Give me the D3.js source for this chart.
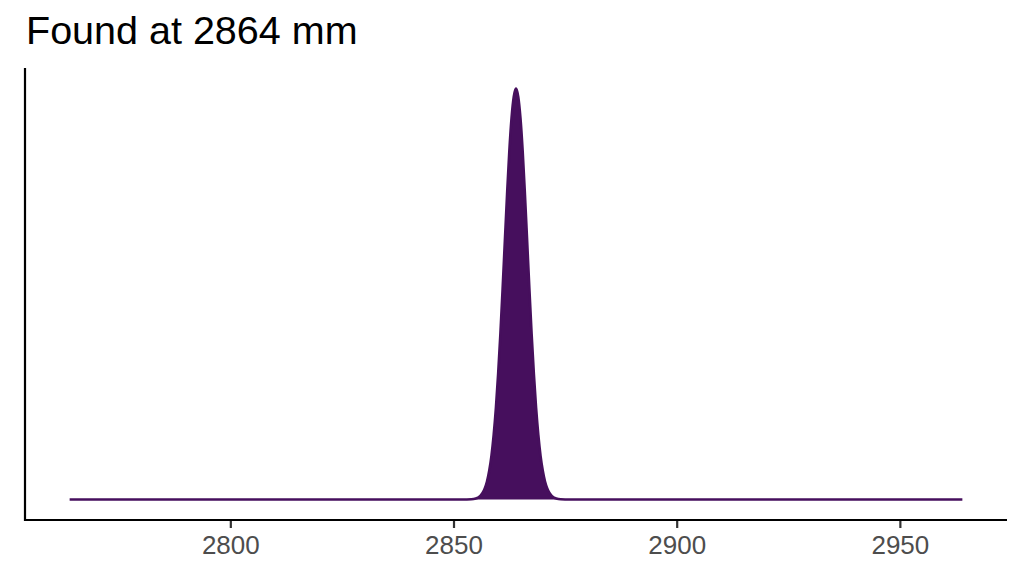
<!DOCTYPE html>
<html>
<head>
<meta charset="utf-8">
<script src="https://cdn.jsdelivr.net/npm/d3@7"></script>
<style>
  html, body { margin: 0; padding: 0; background: #ffffff; }
  svg { display: block; font-family: "Liberation Sans", Arial, sans-serif; }
</style>
</head>
<body>
<svg id="chart" width="1024" height="576"></svg>
<script>
// Title
const titleText = "Found at 2864 mm";

// Position (mm) of density samples
const positions = [
  2764, 2852, 2854, 2855, 2855.5, 2856, 2856.5, 2857, 2857.5, 2858, 2858.5,
  2859, 2859.5, 2860, 2860.5, 2861, 2861.5, 2862, 2862.5, 2863, 2863.5,
  2864,
  2864.5, 2865, 2865.5, 2866, 2866.5, 2867, 2867.5, 2868, 2868.5, 2869,
  2869.5, 2870, 2870.5, 2871, 2871.5, 2872, 2872.5, 2873, 2874, 2876, 2964
];
// Density values at those positions
const density = [
  0, 0, 0.0001, 0.0004, 0.0007, 0.00135, 0.0024, 0.0041, 0.0067, 0.0107, 0.0163,
  0.0241, 0.0342, 0.0469, 0.0618, 0.0786, 0.0964, 0.114, 0.130, 0.1425, 0.1505,
  0.1535,
  0.1505, 0.1425, 0.130, 0.114, 0.0964, 0.0786, 0.0618, 0.0469, 0.0342, 0.0241,
  0.0163, 0.0107, 0.0067, 0.0041, 0.0024, 0.00135, 0.0007, 0.0004, 0.0001, 0, 0
];

// X axis tick values
const xTicks = [2800, 2850, 2900, 2950];

const svg = d3.select("#chart");
const color = "#460f5d";

const panel = { left: 25, right: 1007, top: 68, bottom: 520 };

const xMin = d3.min(positions), xMax = d3.max(positions);
const xPad = (xMax - xMin) * 0.05;
const x = d3.scaleLinear()
  .domain([xMin - xPad, xMax + xPad])
  .range([panel.left, panel.right]);

const yMax = d3.max(density);
const y = d3.scaleLinear()
  .domain([-0.05 * yMax, 1.05 * yMax])
  .range([panel.bottom, panel.top]);

const data = positions.map((p, i) => ({ p, d: density[i] }));

// area
svg.append("path")
  .datum(data)
  .attr("fill", color)
  .attr("d", d3.area()
    .x(d => x(d.p))
    .y0(y(0))
    .y1(d => y(d.d))
    .curve(d3.curveMonotoneX));

// outline
svg.append("path")
  .datum(data)
  .attr("fill", "none")
  .attr("stroke", color)
  .attr("stroke-width", 2.6)
  .attr("stroke-linejoin", "round")
  .attr("d", d3.line()
    .x(d => x(d.p))
    .y(d => y(d.d))
    .curve(d3.curveMonotoneX));

// x axis
const xAxis = svg.append("g")
  .attr("transform", `translate(0,${panel.bottom})`)
  .call(d3.axisBottom(x).tickValues(xTicks).tickSize(8).tickSizeOuter(0).tickFormat(d3.format("d")));
xAxis.select(".domain").remove();
xAxis.selectAll(".tick line").attr("stroke", "#333333").attr("stroke-width", 2.2);
xAxis.selectAll(".tick text")
  .attr("fill", "#4d4d4d")
  .attr("font-size", 26)
  .attr("font-family", "Liberation Sans, Arial, sans-serif")
  .attr("y", 33.5)
  .attr("dy", null);

// axis lines
svg.append("line")
  .attr("x1", panel.left).attr("x2", panel.right)
  .attr("y1", panel.bottom).attr("y2", panel.bottom)
  .attr("stroke", "#000").attr("stroke-width", 2.2);
svg.append("line")
  .attr("x1", panel.left).attr("x2", panel.left)
  .attr("y1", panel.top).attr("y2", panel.bottom + 1.1)
  .attr("stroke", "#000").attr("stroke-width", 2.2);

// title
svg.append("text")
  .attr("x", 26)
  .attr("y", 43.5)
  .attr("font-size", 39.5)
  .attr("fill", "#000")
  .text(titleText);
</script>
</body>
</html>
